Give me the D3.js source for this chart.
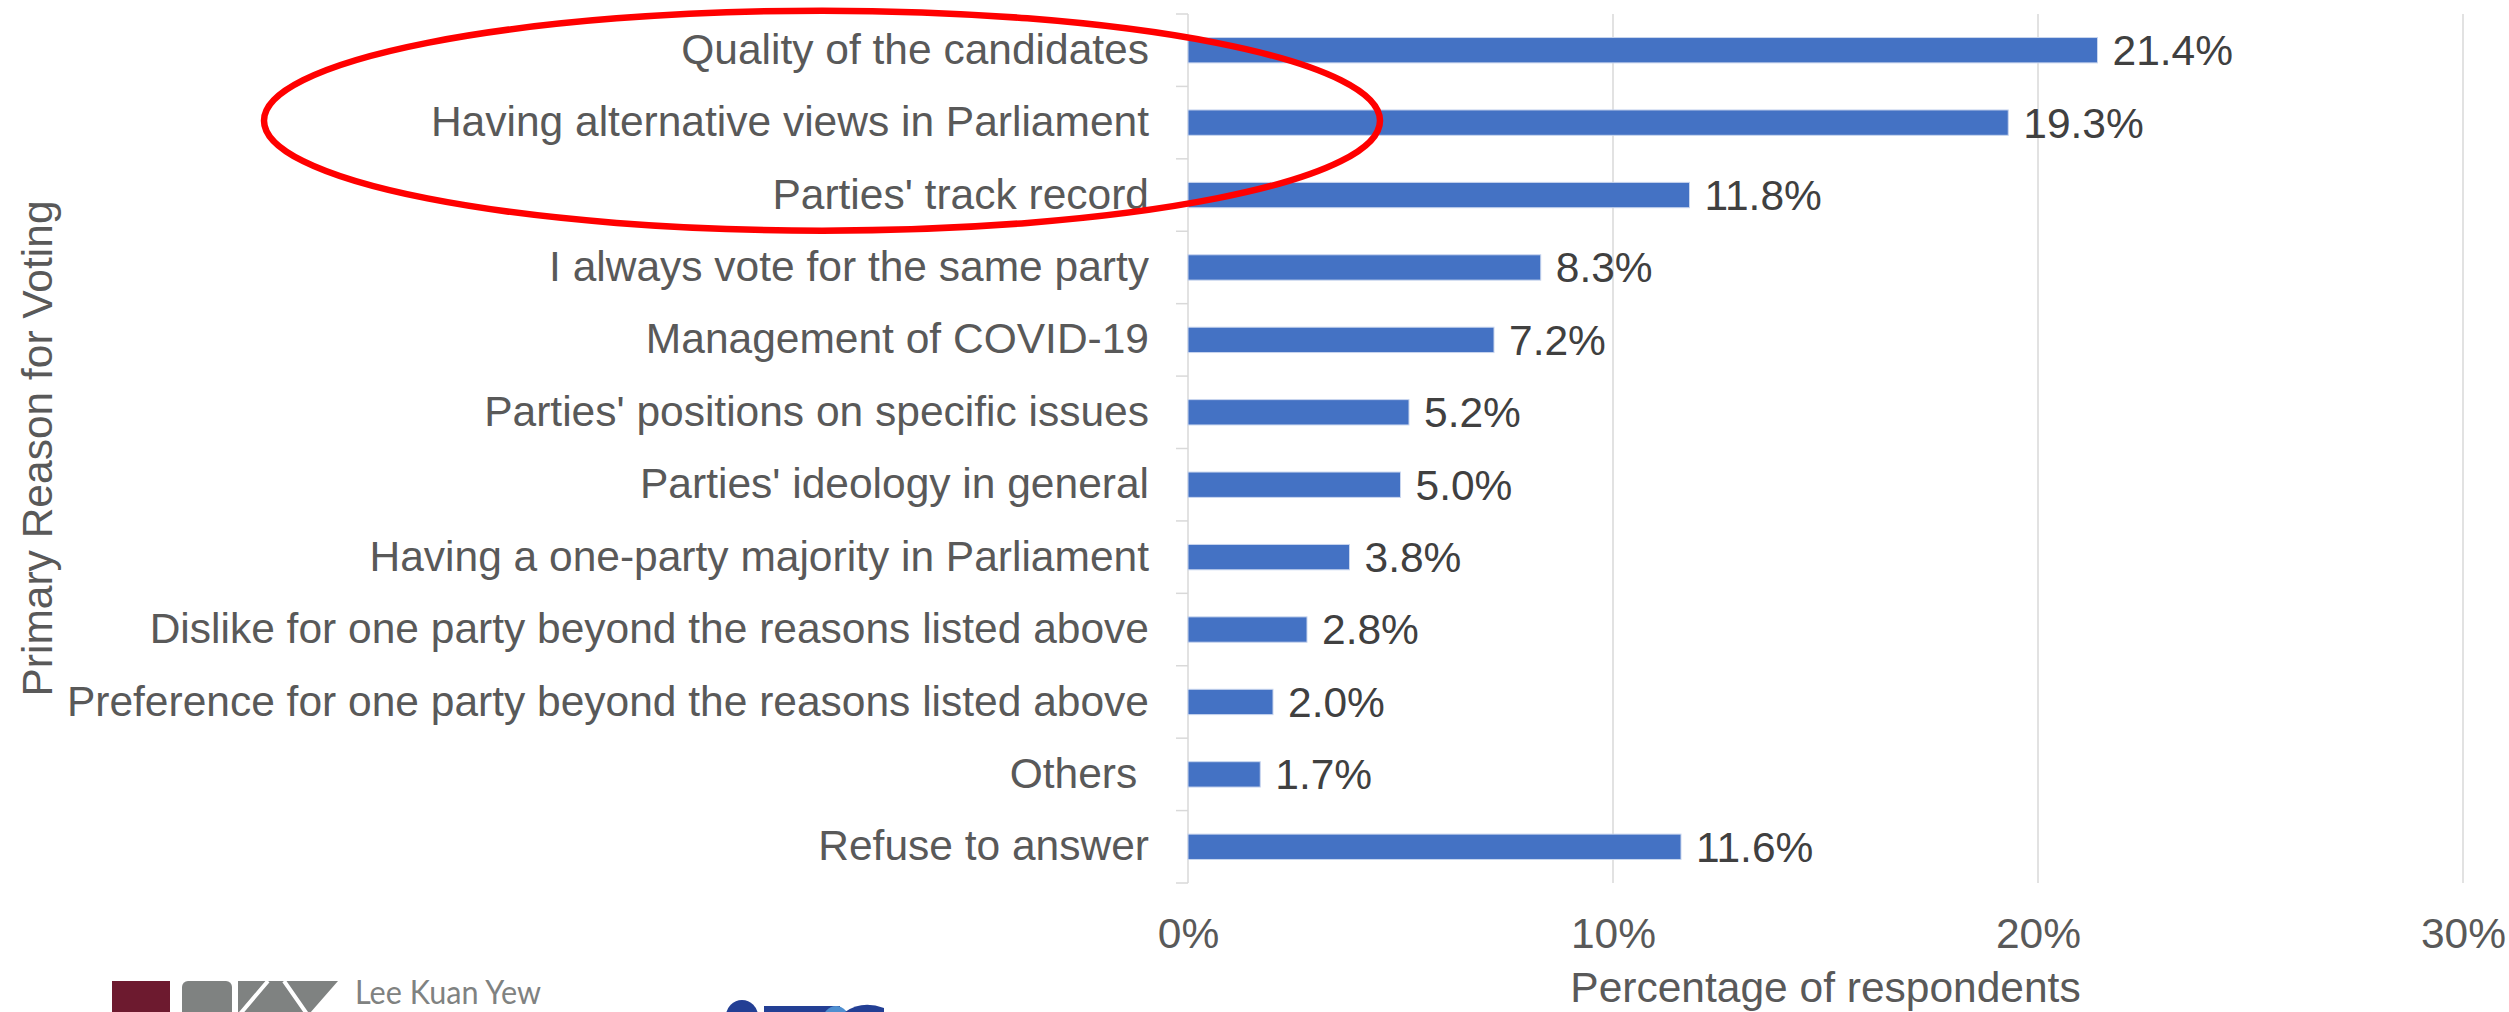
<!DOCTYPE html>
<html>
<head>
<meta charset="utf-8">
<script src="https://cdn.jsdelivr.net/npm/d3@7"></script>
<style>
  html, body { margin: 0; padding: 0; background: #fff; }
  svg { display: block; }
  text { font-family: "Liberation Sans", Arial, sans-serif; }
</style>
</head>
<body>
<svg id="chart" width="2509" height="1012"></svg>
<script>
// Survey results: primary reason for voting
const categories = [
  "Quality of the candidates",
  "Having alternative views in Parliament",
  "Parties' track record",
  "I always vote for the same party",
  "Management of COVID-19",
  "Parties' positions on specific issues",
  "Parties' ideology in general",
  "Having a one-party majority in Parliament",
  "Dislike for one party beyond the reasons listed above",
  "Preference for one party beyond the reasons listed above",
  "Others ",
  "Refuse to answer"
];
const values = [21.4, 19.3, 11.8, 8.3, 7.2, 5.2, 5.0, 3.8, 2.8, 2.0, 1.7, 11.6];
const xTicks = [0, 10, 20, 30];
const highlighted = ["Having alternative views in Parliament"];

const FONT = '"Liberation Sans", Arial, sans-serif';
const FS = 42.5;

const svg = d3.select("#chart");
svg.append("rect").attr("width", 2509).attr("height", 1012).attr("fill", "#fff");

const plot = { left: 1188, right: 2463, top: 14, bottom: 883 };

const x = d3.scaleLinear().domain([0, 30]).range([plot.left, plot.right]);
const y = d3.scaleBand().domain(categories)
  .range([plot.top, plot.bottom])
  .paddingInner(0.65).paddingOuter(0.325);

// vertical gridlines
svg.append("g").selectAll("line").data(xTicks.slice(1)).join("line")
  .attr("x1", d => x(d)).attr("x2", d => x(d))
  .attr("y1", plot.top).attr("y2", plot.bottom)
  .attr("stroke", "#d9d9d9").attr("stroke-width", 1.5);

// category axis line and tick marks on band boundaries
svg.append("line")
  .attr("x1", x(0)).attr("x2", x(0))
  .attr("y1", plot.top).attr("y2", plot.bottom)
  .attr("stroke", "#d9d9d9").attr("stroke-width", 1.5);
const bounds = categories.map(c => y(c) - y.step() * y.paddingInner() / 2);
bounds.push(plot.bottom);
svg.append("g").selectAll("line").data(bounds).join("line")
  .attr("x1", x(0) - 12).attr("x2", x(0))
  .attr("y1", d => d).attr("y2", d => d)
  .attr("stroke", "#d9d9d9").attr("stroke-width", 1.5);

// category labels
const yAxis = svg.append("g")
  .attr("transform", `translate(${x(0)},0)`)
  .call(d3.axisLeft(y).tickSize(0).tickPadding(39));
yAxis.select(".domain").remove();
yAxis.selectAll("text")
  .attr("font-size", FS).attr("fill", "#595959")
  .style("font-family", FONT)
  .style("white-space", "pre");

// value axis labels
const xAxis = svg.append("g")
  .attr("transform", `translate(0,${plot.bottom})`)
  .call(d3.axisBottom(x).tickValues(xTicks).tickSize(0).tickPadding(0)
    .tickFormat(d => d + "%"));
xAxis.select(".domain").remove();
xAxis.selectAll("text")
  .attr("y", 65).attr("dy", 0)
  .attr("font-size", FS).attr("fill", "#595959")
  .style("font-family", FONT);

// bars
svg.append("g").selectAll("rect").data(values).join("rect")
  .attr("x", x(0))
  .attr("y", (d, i) => y(categories[i]))
  .attr("width", d => x(d) - x(0))
  .attr("height", y.bandwidth())
  .attr("fill", "#4472c4")
  .attr("stroke", "#c9d6ee").attr("stroke-width", 1);

// value labels
svg.append("g").selectAll("text").data(values).join("text")
  .attr("x", d => x(d) + 15)
  .attr("y", (d, i) => y(categories[i]) + y.bandwidth() / 2)
  .attr("dy", "0.35em")
  .attr("font-size", FS).attr("fill", "#404040")
  .text(d => d.toFixed(1) + "%");

// axis titles
svg.append("text")
  .attr("transform", `translate(52,${(plot.top + plot.bottom) / 2}) rotate(-90)`)
  .attr("text-anchor", "middle")
  .attr("font-size", FS).attr("fill", "#595959")
  .text("Primary Reason for Voting");
svg.append("text")
  .attr("x", (plot.left + plot.right) / 2).attr("y", 1002)
  .attr("text-anchor", "middle")
  .attr("font-size", FS).attr("fill", "#595959")
  .text("Percentage of respondents");

// highlight ring around the leading reasons
const hi = categories.indexOf(highlighted[0]);
svg.append("ellipse")
  .attr("cx", 822).attr("cy", y(categories[hi]) + y.bandwidth() / 2 - 2)
  .attr("rx", 558).attr("ry", 110)
  .attr("fill", "none").attr("stroke", "#ff0000").attr("stroke-width", 6.5);

// LKY School logo
const lky = svg.append("g");
lky.append("rect").attr("x", 112).attr("y", 981).attr("width", 58).attr("height", 40).attr("fill", "#6d1a2f");
lky.append("rect").attr("x", 182).attr("y", 981).attr("width", 50).attr("height", 40).attr("rx", 6).attr("fill", "#7f8281");
lky.append("path")
  .attr("d", "M238,981 L338,981 L310,1013 L238,1013 Z")
  .attr("fill", "#7f8281");
lky.append("path")
  .attr("d", "M240,1014 L268,981 M284,981 L307,1014")
  .attr("stroke", "#fff").attr("stroke-width", 4).attr("fill", "none");
lky.append("text").attr("x", 355).attr("y", 1004)
  .attr("font-size", 32).attr("fill", "#7f8281")
  .attr("textLength", 186).attr("lengthAdjust", "spacingAndGlyphs")
  .style("font-family", 'Lato, "Open Sans", sans-serif')
  .text("Lee Kuan Yew");

// IPS logo
const ips = svg.append("g");
ips.append("circle").attr("cx", 742).attr("cy", 1016).attr("r", 16).attr("fill", "#233f94");
ips.append("rect").attr("x", 764).attr("y", 1006).attr("width", 76).attr("height", 12).attr("fill", "#233f94");
ips.append("ellipse").attr("cx", 836).attr("cy", 1022).attr("rx", 14).attr("ry", 16).attr("fill", "#4f8fd0");
ips.append("path").attr("d", "M845,1012 Q862,1000 884,1008 L884,1012 Z").attr("fill", "#233f94");
</script>
</body>
</html>
